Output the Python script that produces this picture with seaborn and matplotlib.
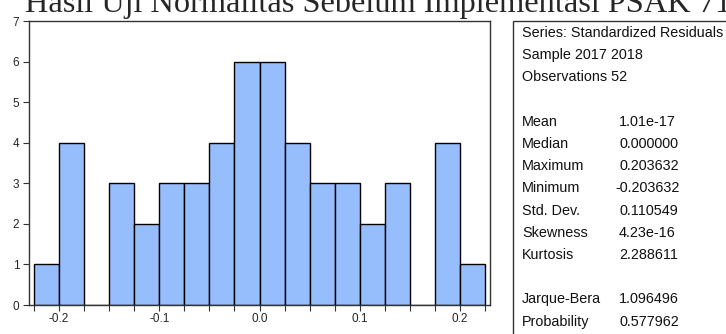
import numpy as np
import pandas as pd
import matplotlib
matplotlib.use("Agg")
import matplotlib.pyplot as plt
from matplotlib.patches import Rectangle
from matplotlib.ticker import FixedLocator
import seaborn as sns

# ---- data ----
bin_start = -0.225
bin_width = 0.025
counts = [1, 4, 0, 3, 2, 3, 3, 4, 6, 6, 4, 3, 3, 2, 3, 0, 4, 1]
x_ticks = [-0.2, -0.1, 0.0, 0.1, 0.2]
x_tick_labels = ["-0.2", "-0.1", "0.0", "0.1", "0.2"]
y_ticks = [0, 1, 2, 3, 4, 5, 6, 7]

title = "Hasil Uji Normalitas Sebelum Implementasi PSAK 71"
header_lines = ["Series: Standardized Residuals", "Sample 2017 2018", "Observations 52"]
stat_names = ["Mean", "Median", "Maximum", "Minimum", "Std. Dev.", "Skewness", "Kurtosis"]
stat_values = ["1.01e-17", "0.000000", "0.203632", "-0.203632", "0.110549", "4.23e-16", "2.288611"]
test_names = ["Jarque-Bera", "Probability"]
test_values = ["1.096496", "0.577962"]

sns.set_style("white")
plt.rcParams["font.family"] = ["Liberation Sans", "DejaVu Sans"]

W, H = 726, 334
fig = plt.figure(figsize=(W / 100, H / 100), dpi=100)
ax = fig.add_axes([29 / W, (H - 305) / H, (490 - 29) / W, (305 - 21) / H])

edges = bin_start + bin_width * np.arange(len(counts) + 1)
df = pd.DataFrame({"center": edges[:-1] + bin_width / 2, "count": counts})
sns.histplot(data=df, x="center", weights="count", bins=list(edges), ax=ax,
             color="#96bdfc", alpha=1, edgecolor="black", linewidth=1)

ax.set_xlim(-0.23, 0.23)
ax.set_ylim(0, 7)
ax.set_xticks(x_ticks)
ax.set_xticklabels(x_tick_labels)
ax.xaxis.set_minor_locator(FixedLocator(edges))
ax.set_yticks(y_ticks)
ax.set_xlabel("")
ax.set_ylabel("")
ax.tick_params(axis="both", which="both", direction="out", length=4, width=0.8,
               color="#333333", labelsize=8.5, pad=2, bottom=True, left=True)
ax.tick_params(axis="y", pad=3)
for s in ax.spines.values():
    s.set_visible(True)
    s.set_color("#333333")
    s.set_linewidth(1)

# title runs off the top of the image
fig.text(25 / W, (H - 12) / H, title, family="Liberation Serif", fontsize=23.3,
         va="baseline", ha="left")

# statistics box
box = Rectangle((513 / W, -0.2), 0.5, (H - 21) / H + 0.2, transform=fig.transFigure,
                fill=False, edgecolor="#333333", linewidth=1, clip_on=False)
fig.patches.append(box)

y0, step = 33, 22.2
lab_x, val_x = 522 / W, 619 / W
rows = [(t, None) for t in header_lines] + [("", None)]
rows += list(zip(stat_names, stat_values)) + [("", None)]
rows += list(zip(test_names, test_values))
for i, (name, val) in enumerate(rows):
    y = (H - (y0 + i * step)) / H
    fig.text(lab_x, y, name, fontsize=10.4, va="center", ha="left", color="#111111")
    if val is not None:
        vx = val_x - (4 / W if val.startswith("-") else 0)
        fig.text(vx, y, val, fontsize=10.4, va="center", ha="left", color="#111111")

fig.savefig("out.png", dpi=100)
